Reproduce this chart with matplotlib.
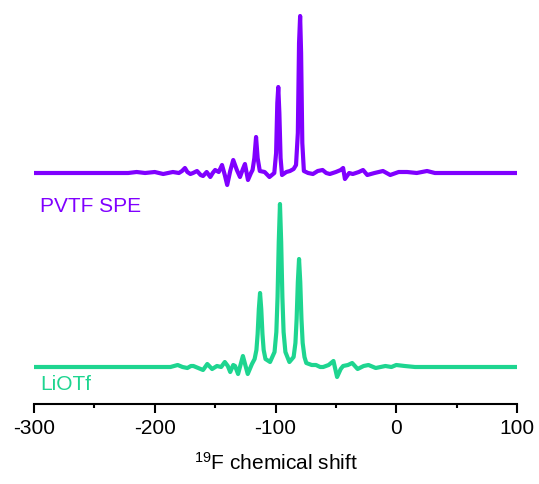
import numpy as np
import matplotlib.pyplot as plt

plt.rcParams['font.family'] = ['Liberation Sans', 'DejaVu Sans']
plt.rcParams['mathtext.fontset'] = 'custom'
plt.rcParams['mathtext.rm'] = 'Liberation Sans'
plt.rcParams['axes.unicode_minus'] = False

# PVTF SPE spectrum (shift in ppm, intensity in arbitrary units)
pvtf_shift = [-300, -222, -215, -208, -200, -193, -185, -180, -177.4, -175, -173, -170.5,
              -168.3, -165, -162, -160, -157, -154, -152, -150, -147,
              -144.3, -142, -140, -137.5, -135, -132, -129.4, -127, -125.3, -122.8, -120.3,
              -119, -117.5, -116.1, -114.8, -113, -109, -105,
              -101, -99.5, -98.5, -97.7, -96.8, -95.8, -94.6, -91, -88, -85,
              -83, -81.5, -80.5, -79.6, -78.8, -77.8, -76.5,
              -73, -69, -65, -61, -58, -55, -50, -46, -44, -42.5, -39, -36, -31,
              -27.5, -24, -18, -11, -5, 2, 9, 17, 25.5, 32, 38.7, 100]
pvtf_int = [0, 0, 1, 0, 1, -1, 1, 0, 2, 5, 1, -1,
            0, 2, -2, -3, 1, -4, 0, 3, 1,
            8, -2, -12, 2, 13, 3, -4, 4, 9, -7, 0,
            3, 15, 36, 15, 2, 1, -4,
            0, 20, 70, 86, 60, 15, -2, 1, 2, 4,
            8, 40, 130, 157, 120, 30, 2,
            0, -1, 2, 3, 0, -1, 1, 3, 5, -6, 0, -1, 1,
            3, -2, 0, 2, -2, 1, 1, 0, 2, 0, 0, 0]

# LiOTf spectrum
liotf_shift = [-300, -187, -184, -181, -177, -173, -170, -168, -164, -160, -156.5, -152.5,
               -148.5, -145, -142, -139.5, -137.5, -135, -133.5, -131, -127, -123, -119.5,
               -117.3, -115.8, -114.8, -113.8, -112.8, -111.8, -110.8, -109.8, -108.3, -104.5,
               -100.8, -99.3, -98.3, -97.3, -96.3, -95.3, -94.3, -93.3, -91.8, -88.5,
               -85, -83.5, -82.5, -81.5, -80.5, -79.5, -78.5, -77.5, -76, -74.5,
               -70, -66.5, -63, -60.5, -56, -52, -49, -46, -44, -40, -36.5, -32, -27,
               -23, -17, -13, -9, -4, 0, 7, 15.5, 100]
liotf_int = [0, 0, 1, 2, 0, -1, 1, 1, -1, -3, 3, -2,
             1, 0, 5, 1, -5, 2, 1, -7, 11, -7, 3,
             8, 17, 33, 58, 74, 58, 33, 17, 8, 5,
             15, 35, 70, 125, 163, 125, 70, 35, 15, 5,
             10, 24, 48, 85, 108, 85, 48, 24, 10, 4,
             2, 2, 0, 0, 2, 6, -10, -2, 1, 2, 4, -2, 1,
             2, -1, 0, 1, 0, 2, 1, 0, 0]

labels = ['PVTF SPE', 'LiOTf']
colors = ['#8000FF', '#1ED590']

fig = plt.figure(figsize=(5.39, 4.84), dpi=100)
ax = fig.add_axes([34 / 539, 80 / 484, 483 / 539, 404 / 484])

ax.plot(pvtf_shift, np.array(pvtf_int) + 231, color=colors[0], lw=3,
        solid_joinstyle='round', solid_capstyle='butt')
ax.plot(liotf_shift, np.array(liotf_int) + 37, color=colors[1], lw=3,
        solid_joinstyle='round', solid_capstyle='butt')

ax.text(-295, 198, labels[0], color=colors[0], fontsize=15, va='center', ha='left')
ax.text(-295, 19, labels[1], color=colors[1], fontsize=15, va='center', ha='left')

ax.set_xlim(-300, 100)
ax.set_ylim(0, 404)
for s in ['top', 'right', 'left']:
    ax.spines[s].set_visible(False)
ax.spines['bottom'].set_linewidth(1.5)
ax.set_yticks([])
ax.set_xticks(np.arange(-300, 101, 100))
ax.set_xticks(np.arange(-250, 100, 100), minor=True)
ax.tick_params(axis='x', which='major', length=6.5, width=1.5, labelsize=15, pad=4)
ax.tick_params(axis='x', which='minor', length=3, width=1.5)
ax.set_xlabel('$\\mathregular{^{19}}$F chemical shift', fontsize=15, labelpad=10)
ax.patch.set_visible(False)

fig.savefig('out.png', dpi=100)
